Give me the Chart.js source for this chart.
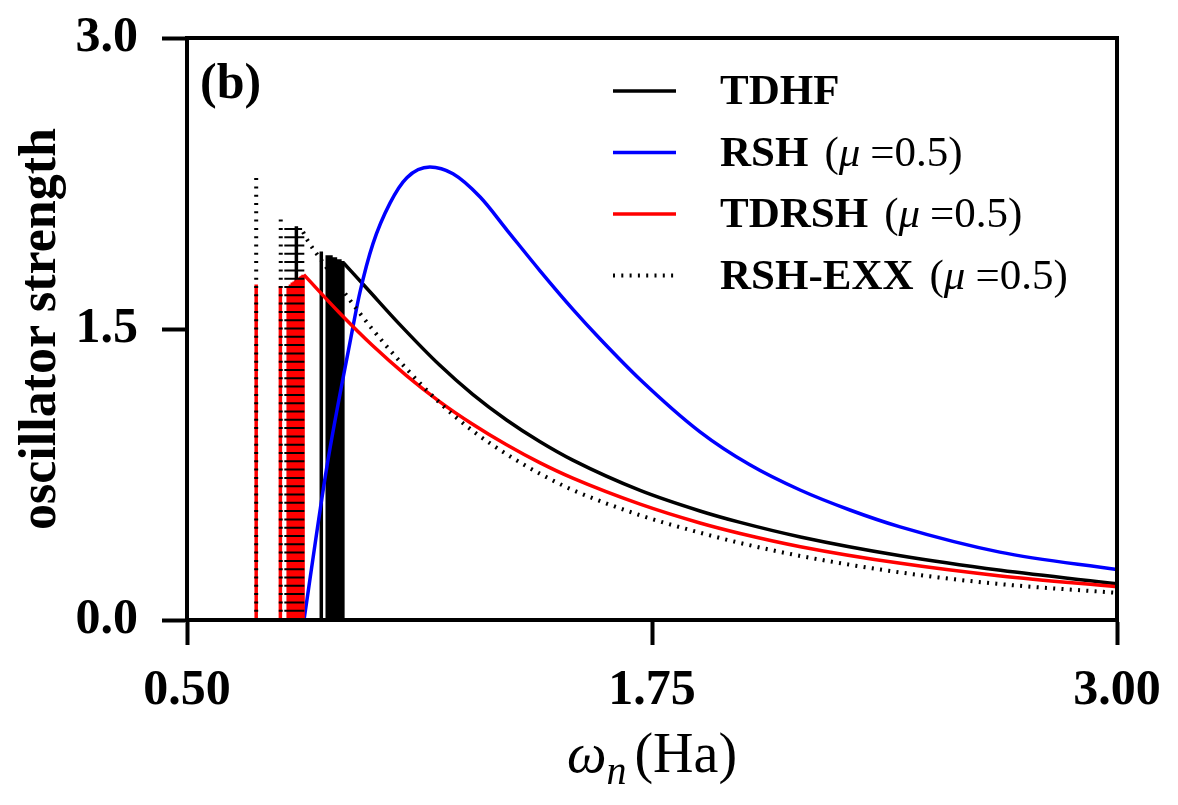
<!DOCTYPE html>
<html>
<head>
<meta charset="utf-8">
<title>oscillator strength</title>
<script src="https://cdn.jsdelivr.net/npm/chart.js@4"></script>
<style>
  html, body { margin: 0; padding: 0; background: #fff; }
  #wrap { width: 1178px; height: 805px; }
  canvas { display: block; }
</style>
</head>
<body>
<div id="wrap"><canvas id="chart" width="1178" height="805"></canvas></div>
<script>
// values: omega (Ha) and oscillator strength

// TDHF
const tdhfStickW = [0.794, 0.861, 0.877, 0.882, 0.887, 0.891, 0.895, 0.899, 0.902, 0.905, 0.908, 0.911, 0.913, 0.915, 0.917, 0.919];
const tdhfStickF = [2.03, 1.90, 1.88, 1.88, 1.88, 1.87, 1.87, 1.87, 1.86, 1.86, 1.86, 1.86, 1.85, 1.85, 1.85, 1.85];
const tdhfCurveW = [0.921, 0.985, 1.071, 1.179, 1.268, 1.359, 1.448, 1.537, 1.718, 1.879, 1.987, 2.149, 2.418, 2.687, 3.0];
const tdhfCurveF = [1.84, 1.706, 1.525, 1.314, 1.163, 1.031, 0.92, 0.824, 0.668, 0.562, 0.503, 0.428, 0.331, 0.256, 0.187];

// RSH (mu = 0.5), continuum only
const rshCurveW = [0.8145, 0.876, 0.938, 0.965, 1.0, 1.046, 1.091, 1.153, 1.215, 1.288, 1.360, 1.449, 1.538, 1.610, 1.718, 1.879, 2.013, 2.148, 2.282, 2.417, 2.685, 3.0];
const rshCurveF = [0.0, 0.79, 1.43, 1.69, 1.94, 2.15, 2.28, 2.335, 2.30, 2.18, 2.01, 1.80, 1.60, 1.45, 1.24, 0.97, 0.80, 0.67, 0.567, 0.48, 0.35, 0.26];

// TDRSH (mu = 0.5)
const tdrshStickW = [0.686, 0.751, 0.772, 0.778, 0.783, 0.788, 0.792, 0.796, 0.800, 0.803, 0.806, 0.809, 0.812];
const tdrshStickF = [1.73, 1.72, 1.72, 1.73, 1.74, 1.745, 1.75, 1.755, 1.76, 1.765, 1.77, 1.775, 1.78];
const tdrshCurveW = [0.814, 0.909, 0.998, 1.090, 1.179, 1.268, 1.359, 1.448, 1.537, 1.718, 1.879, 1.987, 2.149, 2.418, 2.687, 3.0];
const tdrshCurveF = [1.78, 1.585, 1.416, 1.26, 1.126, 1.009, 0.903, 0.811, 0.731, 0.597, 0.50, 0.446, 0.378, 0.292, 0.227, 0.171];

// RSH-EXX (mu = 0.5)
const exxStickW = [0.686, 0.752, 0.767, 0.772, 0.777, 0.782, 0.786, 0.790, 0.794, 0.798, 0.801, 0.804, 0.807, 0.810];
const exxStickF = [2.29, 2.08, 2.04, 2.04, 2.04, 2.04, 2.04, 2.035, 2.03, 2.03, 2.025, 2.02, 2.01, 2.0];
const exxCurveW = [0.812, 0.823, 0.861, 0.928, 0.998, 1.090, 1.179, 1.268, 1.359, 1.448, 1.537, 1.718, 1.879, 1.987, 2.149, 2.418, 2.687, 3.0];
const exxCurveF = [2.0, 1.96, 1.855, 1.675, 1.50, 1.295, 1.12, 0.975, 0.855, 0.755, 0.67, 0.54, 0.45, 0.397, 0.33, 0.245, 0.185, 0.14];

const xTicks = [0.5, 1.75, 3.0];
const yTicks = [0.0, 1.5, 3.0];
const legendNames = ['TDHF', 'RSH', 'TDRSH', 'RSH-EXX'];
const legendMu = ['', '0.5', '0.5', '0.5'];

const SERIF = "'Liberation Serif', 'DejaVu Serif', serif";
const BLACK = '#000000', BLUE = '#0000ff', RED = '#ff0000';
const DOTS = [2, 6.3];

function curvePoints(ws, fs) {
    return ws.map((w, i) => ({ x: w, y: fs[i] }));
}

// every stick goes from 0 up to its value, then a gap
function stickPoints(ws, fs) {
    const pts = [];
    ws.forEach((w, i) => {
        pts.push({ x: w, y: 0 }, { x: w, y: fs[i] }, { x: w, y: null });
    });
    return pts;
}

function curveSet(label, pts, color, dash, order) {
    return {
        label: label, data: pts, borderColor: color, backgroundColor: color,
        borderWidth: dash.length ? 4 : 3.5, borderDash: dash,
        pointRadius: 0, cubicInterpolationMode: 'monotone', fill: false, order: order
    };
}

function stickSet(label, pts, color, dash, order) {
    return {
        label: label, data: pts, borderColor: color, backgroundColor: color,
        borderWidth: dash.length ? 4 : 3.5, borderDash: dash,
        pointRadius: 0, tension: 0, spanGaps: false, fill: false, order: order
    };
}

const legendStyles = [
    { color: BLACK, dash: [] },
    { color: BLUE, dash: [] },
    { color: RED, dash: [] },
    { color: BLACK, dash: DOTS }
];

// top/right spines, panel label, legend and x title
const framePlugin = {
    id: 'frame',
    afterDatasetsDraw(chart) {
        const { ctx, chartArea: a } = chart;
        ctx.save();
        ctx.strokeStyle = '#000';
        ctx.lineWidth = 4;
        ctx.setLineDash([]);
        ctx.strokeRect(a.left, a.top, a.right - a.left, a.bottom - a.top);

        ctx.fillStyle = '#000';
        ctx.textBaseline = 'alphabetic';
        ctx.textAlign = 'left';
        ctx.font = 'bold 50px ' + SERIF;
        ctx.fillText('(b)', a.left + 13, a.top + 60);

        // legend
        const lx = 613, tx = 720;
        legendNames.forEach((name, i) => {
            const y = 91 + i * 61.5;
            const st = legendStyles[i];
            ctx.strokeStyle = st.color;
            ctx.lineWidth = st.dash.length ? 4 : 3.5;
            ctx.setLineDash(st.dash);
            ctx.beginPath();
            ctx.moveTo(lx, y);
            ctx.lineTo(lx + 63, y);
            ctx.stroke();
            ctx.setLineDash([]);

            ctx.fillStyle = '#000';
            ctx.textBaseline = 'middle';
            let x = tx;
            ctx.font = 'bold 43px ' + SERIF;
            ctx.fillText(name, x, y + 2);
            x += ctx.measureText(name).width;
            if (legendMu[i]) {
                x += 16;
                ctx.font = '43px ' + SERIF;
                ctx.fillText('(', x, y + 2);
                x += ctx.measureText('(').width;
                ctx.font = 'italic 43px ' + SERIF;
                ctx.fillText('μ', x, y + 2);
                x += ctx.measureText('μ').width + 10;
                ctx.font = '43px ' + SERIF;
                ctx.fillText('=' + legendMu[i] + ')', x, y + 2);
            }
        });

        // x axis title: omega_n (Ha)
        ctx.textBaseline = 'alphabetic';
        const parts = [
            { t: 'ω', f: 'italic 56px ' + SERIF, dy: 0, gap: 0 },
            { t: 'n', f: 'italic 40px ' + SERIF, dy: 12, gap: 8 },
            { t: '(Ha)', f: '56px ' + SERIF, dy: 0, gap: 0 }
        ];
        let total = 0;
        parts.forEach(p => { ctx.font = p.f; p.w = ctx.measureText(p.t).width; total += p.w + p.gap; });
        let px = (a.left + a.right) / 2 - total / 2;
        parts.forEach(p => {
            ctx.font = p.f;
            ctx.fillText(p.t, px, 772 + p.dy);
            px += p.w + p.gap;
        });
        ctx.restore();
    }
};

const datasets = [
    stickSet('RSH-EXX sticks', stickPoints(exxStickW, exxStickF), BLACK, DOTS, 0),
    curveSet('RSH-EXX (μ =0.5)', curvePoints(exxCurveW, exxCurveF), BLACK, DOTS, 0),
    stickSet('TDRSH sticks', stickPoints(tdrshStickW, tdrshStickF), RED, [], 1),
    curveSet('TDRSH (μ =0.5)', curvePoints(tdrshCurveW, tdrshCurveF), RED, [], 1),
    curveSet('RSH (μ =0.5)', curvePoints(rshCurveW, rshCurveF), BLUE, [], 2),
    stickSet('TDHF sticks', stickPoints(tdhfStickW, tdhfStickF), BLACK, [], 3),
    curveSet('TDHF', curvePoints(tdhfCurveW, tdhfCurveF), BLACK, [], 3)
];

new Chart(document.getElementById('chart'), {
    type: 'line',
    data: { datasets: datasets },
    options: {
        responsive: false,
        devicePixelRatio: 1,
        animation: false,
        layout: { padding: { left: 0, top: 38, right: 61, bottom: 0 } },
        plugins: { legend: { display: false }, tooltip: { enabled: false } },
        scales: {
            x: {
                type: 'linear', min: 0.5, max: 3.0,
                afterFit: s => { s.height = 185; s.paddingLeft = 0; s.paddingRight = 0; },
                afterBuildTicks: s => { s.ticks = xTicks.map(v => ({ value: v })); },
                border: { display: true, width: 4, color: '#000' },
                grid: { display: true, drawOnChartArea: false, drawTicks: true, tickLength: 25, tickWidth: 4, tickColor: '#000' },
                ticks: {
                    maxRotation: 0, autoSkip: false, padding: 16, color: '#000',
                    font: { family: SERIF, size: 50, weight: 'bold' },
                    callback: v => Number(v).toFixed(2)
                }
            },
            y: {
                type: 'linear', min: 0, max: 3.0,
                afterFit: s => { s.width = 187; s.paddingTop = 0; s.paddingBottom = 0; },
                afterBuildTicks: s => { s.ticks = yTicks.map(v => ({ value: v })); },
                border: { display: true, width: 4, color: '#000' },
                grid: { display: true, drawOnChartArea: false, drawTicks: true, tickLength: 25, tickWidth: 4, tickColor: '#000' },
                ticks: {
                    padding: 24, color: '#000',
                    font: { family: SERIF, size: 50, weight: 'bold' },
                    callback: v => Number(v).toFixed(1)
                },
                title: {
                    display: true, text: 'oscillator strength', color: '#000',
                    font: { family: SERIF, size: 52, weight: 'bold' },
                    padding: { top: 10, bottom: 0 }
                }
            }
        }
    },
    plugins: [framePlugin]
});
</script>
</body>
</html>
